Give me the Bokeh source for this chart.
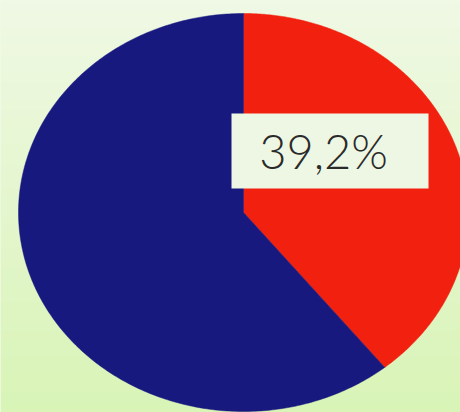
import numpy as np
from bokeh.plotting import figure
from bokeh.models import Range1d, ColumnDataSource
from bokeh.core.properties import value
from bokeh.embed import file_html
from bokeh.resources import INLINE

# data
slices = ["share", "rest"]
shares = [39.2, 60.8]
label_texts = ["39,2%"]

W, H = 460, 412
# pixel geometry of the ellipse (center, radii)
CX, CY, RX, RY = 243, 212, 225, 199

def X(px):
    return (px - CX) / RX

def Y(py):
    return (CY - py) / RY

p = figure(width=W, height=H, output_backend="svg", toolbar_location=None,
           x_range=Range1d(X(0), X(W)), y_range=Range1d(Y(H), Y(0)),
           min_border=0, border_fill_color=None, outline_line_color=None,
           background_fill_color="#e6f6cf")
p.axis.visible = False
p.grid.visible = False

# background gradient
ny, nx = 120, 2
top = np.array([240, 249, 229])
bot = np.array([217, 244, 183])
t = np.linspace(0, 1, ny)[:, None]  # row 0 = bottom
img = np.empty((ny, nx), dtype=np.uint32)
view = img.view(dtype=np.uint8).reshape((ny, nx, 4))
cols = (bot[None, :] * (1 - t) + top[None, :] * t).astype(np.uint8)
for j in range(nx):
    view[:, j, 0:3] = cols
view[:, :, 3] = 255
p.image_rgba(image=[img], x=X(0), y=Y(H), dw=X(W) - X(0), dh=Y(0) - Y(H))

# pie slices as elliptical patches (unit circle in data space)
colors = ["#f2210f", "#18197f"]
vals = np.array(shares, dtype=float)
frac = vals / vals.sum()
ends = np.cumsum(frac)
starts = ends - frac
xs, ys = [], []
for s, e in zip(starts, ends):
    a = np.pi / 2 - 2 * np.pi * np.linspace(s, e, 300)
    xs.append([0.0] + list(np.cos(a)) + [0.0])
    ys.append([0.0] + list(np.sin(a)) + [0.0])
src = ColumnDataSource(dict(xs=xs, ys=ys, color=colors, name=slices))
p.patches("xs", "ys", source=src, fill_color="color", line_color="color",
          line_width=0.5)

# label box and text
p.quad(left=X(231), right=X(428), top=Y(113), bottom=Y(188),
       fill_color="#eef7e3", line_color=None)
p.text(x=[X(323)], y=[Y(150)], text=label_texts, text_align="center",
       text_baseline="middle", text_font=value("Lato Light, Lato"),
       text_font_size="47px", text_color="#2a2a2a")

open("out.html", "w").write(file_html(p, INLINE))
